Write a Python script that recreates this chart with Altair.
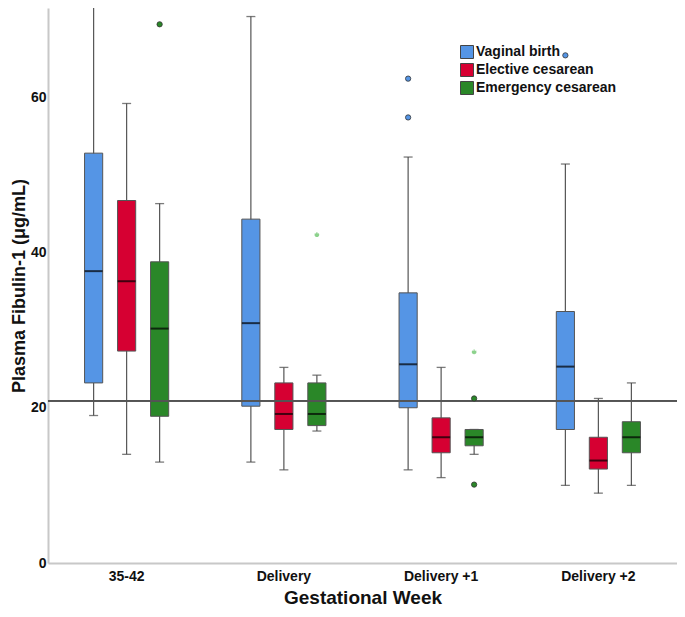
import altair as alt
import pandas as pd

weeks = ["35-42", "Delivery", "Delivery +1", "Delivery +2"]
groups = ["Vaginal birth", "Elective cesarean", "Emergency cesarean"]
colors = ["#5595E5", "#D60032", "#2A8728"]

# per week, per group (order of groups): lower whisker, Q1, median, Q3, upper whisker
box_week = ["35-42"] * 3 + ["Delivery"] * 3 + ["Delivery +1"] * 3 + ["Delivery +2"] * 3
box_group = groups * 4
w_low = [19, 14, 13, 13, 12, 17, 12, 11, 14, 10, 9, 10]
q1 = [23.2, 27.3, 18.9, 20.2, 17.2, 17.7, 20.0, 14.2, 15.1, 17.2, 12.1, 14.2]
med = [37.6, 36.3, 30.2, 30.9, 19.2, 19.2, 25.6, 16.2, 16.2, 25.3, 13.2, 16.2]
q3 = [52.8, 46.7, 38.8, 44.3, 23.2, 23.2, 34.8, 18.7, 17.2, 32.4, 16.2, 18.2]
w_high = [72.8, 59.2, 46.3, 70.4, 25.2, 24.2, 52.3, 25.2, 17.2, 51.4, 21.2, 23.2]

# outliers (circles)
out_week = ["35-42", "Delivery +1", "Delivery +1", "Delivery +1", "Delivery +1", "Delivery +2"]
out_group = ["Emergency cesarean", "Vaginal birth", "Vaginal birth", "Emergency cesarean",
             "Emergency cesarean", "Vaginal birth"]
out_value = [69.4, 62.4, 57.4, 21.2, 10.1, 65.4]

# extreme values (stars)
ext_week = ["Delivery", "Delivery +1"]
ext_group = ["Emergency cesarean", "Emergency cesarean"]
ext_value = [42.3, 27.2]

ref_value = 20.9

boxes = pd.DataFrame({"week": box_week, "group": box_group, "lo": w_low, "q1": q1,
                      "med": med, "q3": q3, "hi": w_high})
outs = pd.DataFrame({"week": out_week, "group": out_group, "value": out_value})
exts = pd.DataFrame({"week": ext_week, "group": ext_group, "value": ext_value})

FONT = "Liberation Sans"

x_enc = alt.X("week:N", sort=weeks,
              scale=alt.Scale(paddingInner=0.0451, paddingOuter=0.02255),
              axis=alt.Axis(title="Gestational Week", labelAngle=0, ticks=False,
                            labelPadding=6, titlePadding=5, labelFontSize=14,
                            titleFontSize=19, labelFontWeight="bold", titleFontWeight="bold",
                            domainColor="#C8C8C8", domainWidth=2, labelColor="#111",
                            titleColor="#111"))
xo_enc = alt.XOffset("group:N", sort=groups,
                     scale=alt.Scale(paddingInner=0.45, paddingOuter=1))
y_scale = alt.Scale(domain=[0, 71.5], nice=False, zero=True)
y_axis = alt.Axis(title="Plasma Fibulin-1 (μg/mL)", values=[0, 20, 40, 60], ticks=False,
                  grid=False, labelPadding=2, titlePadding=2, labelFontSize=14,
                  titleFontSize=18, labelFontWeight="bold", titleFontWeight="bold",
                  domainColor="#C8C8C8", domainWidth=2, labelColor="#111", titleColor="#111")
color_scale = alt.Scale(domain=groups, range=colors)

base = alt.Chart(boxes).encode(x=x_enc, xOffset=xo_enc)

whisk = base.mark_rule(color="#555", strokeWidth=1.2, clip=False).encode(
    y=alt.Y("lo:Q", scale=y_scale, axis=y_axis), y2="hi:Q")
cap_lo = base.mark_tick(color="#444", size=9, thickness=1.3).encode(y="lo:Q")
cap_hi = base.mark_tick(color="#444", size=9, thickness=1.3, clip=False).encode(y="hi:Q")
box = base.mark_bar(stroke="#555", strokeWidth=1).encode(
    y="q1:Q", y2="q3:Q",
    color=alt.Color("group:N", sort=groups, scale=color_scale,
                    legend=alt.Legend(title=None, orient="none", legendX=412, legendY=37,
                                      symbolType="square", symbolSize=169,
                                      symbolStrokeColor="#444", symbolStrokeWidth=1,
                                      symbolOpacity=1,
                                      labelFontSize=14, labelFont=FONT,
                                      labelFontWeight="bold", labelColor="#111",
                                      rowPadding=0, labelOffset=2)))
median = base.mark_tick(color="black", size=18, thickness=2).encode(y="med:Q")

out_layer = alt.Chart(outs).mark_point(shape="circle", filled=True, size=28, stroke="#333",
                                       strokeWidth=0.8, opacity=1).encode(
    x=alt.X("week:N", sort=weeks), xOffset=alt.XOffset("group:N", sort=groups),
    y="value:Q",
    fill=alt.Fill("group:N", sort=groups, scale=color_scale, legend=None))

star_path = "M0,-1L0,1M-0.95,-0.31L0.95,0.31M-0.95,0.31L0.95,-0.31M-0.59,0.81L0,0M0.59,0.81L0,0"
ext_layer = alt.Chart(exts).mark_point(shape=star_path, size=22, stroke="#5CBF5C",
                                       strokeWidth=1.2, filled=False).encode(
    x=alt.X("week:N", sort=weeks), xOffset=alt.XOffset("group:N", sort=groups),
    y="value:Q")

ref = alt.Chart(boxes).mark_rule(color="#555", strokeWidth=1.2).encode(y=alt.datum(ref_value))

chart = alt.layer(whisk, cap_lo, cap_hi, box, median, ref, out_layer, ext_layer).properties(
    width=629, height=555, autosize=alt.AutoSizeParams(type="none"),
    padding={"left": 40, "top": 0, "right": 0, "bottom": 45}
).configure(font=FONT).configure_view(stroke=None)

chart.save("out.html", embed_options={"renderer": "svg", "actions": False})
